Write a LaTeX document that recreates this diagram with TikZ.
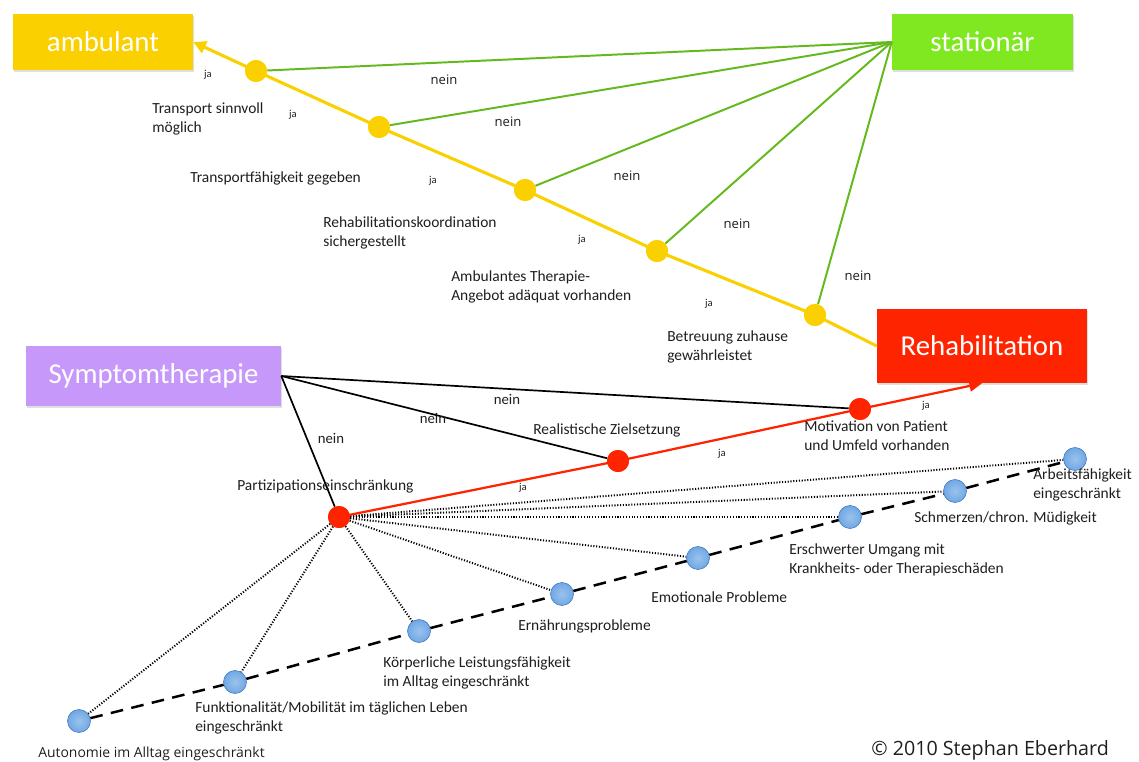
\documentclass[tikz,border=0pt]{standalone}
\usepackage{fontspec}
\setmainfont{Carlito}
\newfontfamily\opensans{Open Sans}
\usepackage{tikz}
\usetikzlibrary{positioning,arrows.meta,shadows}
\definecolor{gelb}{RGB}{250,208,0}
\definecolor{gruen}{RGB}{128,232,32}
\definecolor{gruenline}{RGB}{100,185,30}
\definecolor{rot}{RGB}{255,36,0}
\definecolor{lila}{RGB}{198,152,250}
\definecolor{blau}{RGB}{112,168,228}
\definecolor{blaurand}{RGB}{80,130,195}
\definecolor{tinte}{RGB}{30,30,30}
\tikzset{
  zielbox/.style={fill=#1,text=white,inner sep=0pt,font=\fontsize{20.5}{24}\selectfont,
    drop shadow={shadow xshift=1pt,shadow yshift=-1.5pt,opacity=0.25}},
  ypunkt/.style={circle,fill=gelb,inner sep=0pt,minimum size=5.5mm},
  rpunkt/.style={circle,fill=rot,inner sep=0pt,minimum size=5.5mm},
  bpunkt/.style={circle,inner sep=0pt,minimum size=5.7mm,draw=blaurand,thin,
    inner color=blau!70!white,outer color=blau},
  lab/.style={text=tinte,font=\fontsize{11}{13.5}\selectfont,align=left,anchor=west,inner sep=0pt},
  janode/.style={text=tinte,font=\fontsize{7.5}{8}\selectfont,inner sep=0pt},
  neinnode/.style={text=tinte,font=\opensans\fontsize{9.3}{11}\selectfont,inner sep=0pt},
  neinb/.style={text=tinte,font=\fontsize{10.5}{12}\selectfont,inner sep=0pt},
  gelbweg/.style={gelb,line width=2.2pt},
  gruenweg/.style={gruenline,line width=1.4pt},
  rotweg/.style={rot,line width=1.6pt},
  schwarzweg/.style={black,line width=1.2pt},
  punktiert/.style={black,line width=1.4pt,dash pattern=on 0.8pt off 1.2pt},
  gestrichelt/.style={black,line width=1.8pt,dash pattern=on 9pt off 6pt}
}

\begin{document}
\begin{tikzpicture}[x=0.025cm,y=-0.025cm]
    \useasboundingbox (0,0) rectangle (1139,762);
    % Zielknoten
    \node[zielbox=gelb,minimum width=4.5cm,minimum height=1.4cm] (amb) at (103,42) {ambulant};
    \node[zielbox=gruen,minimum width=4.525cm,minimum height=1.4cm] (stat) at (982.5,42) {stationär};
    \node[zielbox=rot,minimum width=5.25cm,minimum height=1.85cm] (reha) at (982,346) {Rehabilitation};
    \node[zielbox=lila,minimum width=6.375cm,minimum height=1.5cm] (sym) at (153.5,376) {Symptomtherapie};
    % obere Kette
    \node[ypunkt] (y1) at (256,71) {}; \node[ypunkt] (y2) at (379,127) {};
    \node[ypunkt] (y3) at (525,190) {}; \node[ypunkt] (y4) at (657,251) {};
    \node[ypunkt] (y5) at (815,315) {};
    \draw[gruenweg] (y1)--(stat.west); \draw[gruenweg] (y2)--(stat.west); \draw[gruenweg] (y3)--(stat.west);
    \draw[gruenweg] (y4)--(stat.west); \draw[gruenweg] (y5)--(stat.west);
    \draw[gelbweg,-{Triangle[length=9pt,width=9pt]}] (reha.west)--(y5.center)--(y4.center)--(y3.center)--(y2.center)--(y1.center)--(amb.east);
    \node[ypunkt] at (y1) {}; \node[ypunkt] at (y2) {}; \node[ypunkt] at (y3) {};
    \node[ypunkt] at (y4) {}; \node[ypunkt] at (y5) {};
    \node[janode] (ja1) at (208,75) {ja}; \node[janode] (ja2) at (293,115) {ja};
    \node[janode] (ja3) at (433,181) {ja}; \node[janode] (ja4) at (582,240) {ja};
    \node[janode] (ja5) at (709,304) {ja};
    \node[neinnode] (n1) at (444,80) {nein}; \node[neinnode] (n2) at (508,122) {nein};
    \node[neinnode] (n3) at (627,176) {nein}; \node[neinnode] (n4) at (737,224) {nein};
    \node[neinnode] (n5) at (858,276) {nein};
    \node[lab] (t1) at (152,119) {Transport sinnvoll\\möglich};
    \node[lab] (t2) at (190,178) {Transportfähigkeit gegeben};
    \node[lab] (t3) at (323,233) {Rehabilitationskoordination\\sichergestellt};
    \node[lab] (t4) at (451,287) {Ambulantes Therapie-\\Angebot adäquat vorhanden};
    \node[lab] (t5) at (667,347) {Betreuung zuhause\\gewährleistet};
    % untere Kette
    \node[rpunkt] (r1) at (339,517) {}; \node[rpunkt] (r2) at (618,461) {}; \node[rpunkt] (r3) at (860,409) {};
    \node[bpunkt] (b1) at (79,721) {}; \node[bpunkt] (b2) at (235,682) {};
    \node[bpunkt] (b3) at (419,631) {}; \node[bpunkt] (b4) at (562,594) {};
    \node[bpunkt] (b5) at (698,558) {}; \node[bpunkt] (b6) at (850,517) {};
    \node[bpunkt] (b7) at (955,491) {}; \node[bpunkt] (b8) at (1075,459) {};
    \draw[punktiert] (r1)--(b1); \draw[punktiert] (r1)--(b2); \draw[punktiert] (r1)--(b3); \draw[punktiert] (r1)--(b4);
    \draw[punktiert] (r1)--(b5); \draw[punktiert] (r1)--(b6); \draw[punktiert] (r1)--(b7); \draw[punktiert] (r1)--(b8);
    \draw[gestrichelt] (b1)--(b2)--(b3)--(b4)--(b5)--(b6)--(b7)--(b8);
    \draw[schwarzweg] (sym.east)--(r1); \draw[schwarzweg] (sym.east)--(r2); \draw[schwarzweg] (sym.east)--(r3);
    \draw[rotweg,-{Triangle[length=9pt,width=8pt]}] (r1.center)--(r2.center)--(r3.center)--(reha.south);
    \node[rpunkt] at (r1) {}; \node[rpunkt] at (r2) {}; \node[rpunkt] at (r3) {};
    \node[bpunkt] at (b1) {}; \node[bpunkt] at (b2) {}; \node[bpunkt] at (b3) {}; \node[bpunkt] at (b4) {};
    \node[bpunkt] at (b5) {}; \node[bpunkt] at (b6) {}; \node[bpunkt] at (b7) {}; \node[bpunkt] at (b8) {};
    \node[neinb] (n6) at (331,438) {nein}; \node[neinb] (n7) at (433,418) {nein}; \node[neinb] (n8) at (507,399) {nein};
    \node[janode] (ja6) at (523,488) {ja}; \node[janode] (ja7) at (722,454) {ja}; \node[janode] (ja8) at (926,406) {ja};
    \node[lab] (p1) at (237,486) {Partizipationseinschränkung};
    \node[lab] (p2) at (533,430) {Realistische Zielsetzung};
    \node[lab] (p3) at (804,436) {Motivation von Patient\\und Umfeld vorhanden};
    \node[lab,font=\opensans\fontsize{9.9}{11}\selectfont] (s1) at (38,754) {Autonomie im Alltag eingeschränkt};
    \node[lab] (s2) at (195,718) {Funktionalität/Mobilität im täglichen Leben\\eingeschränkt};
    \node[lab] (s3) at (383,673) {Körperliche Leistungsfähigkeit\\im Alltag eingeschränkt};
    \node[lab] (s4) at (518,626) {Ernährungsprobleme};
    \node[lab] (s5) at (651,597) {Emotionale Probleme};
    \node[lab] (s6) at (789,560) {Erschwerter Umgang mit\\Krankheits- oder Therapieschäden};
    \node[lab] (s7) at (914,518) {Schmerzen/chron. Müdigkeit};
    \node[lab] (s8) at (1033,485) {Arbeitsfähigkeit\\eingeschränkt};
    \node[lab,font=\opensans\fontsize{14}{16}\selectfont] (copy) at (871,750) {© 2010 Stephan Eberhard};
\end{tikzpicture}
\end{document}
